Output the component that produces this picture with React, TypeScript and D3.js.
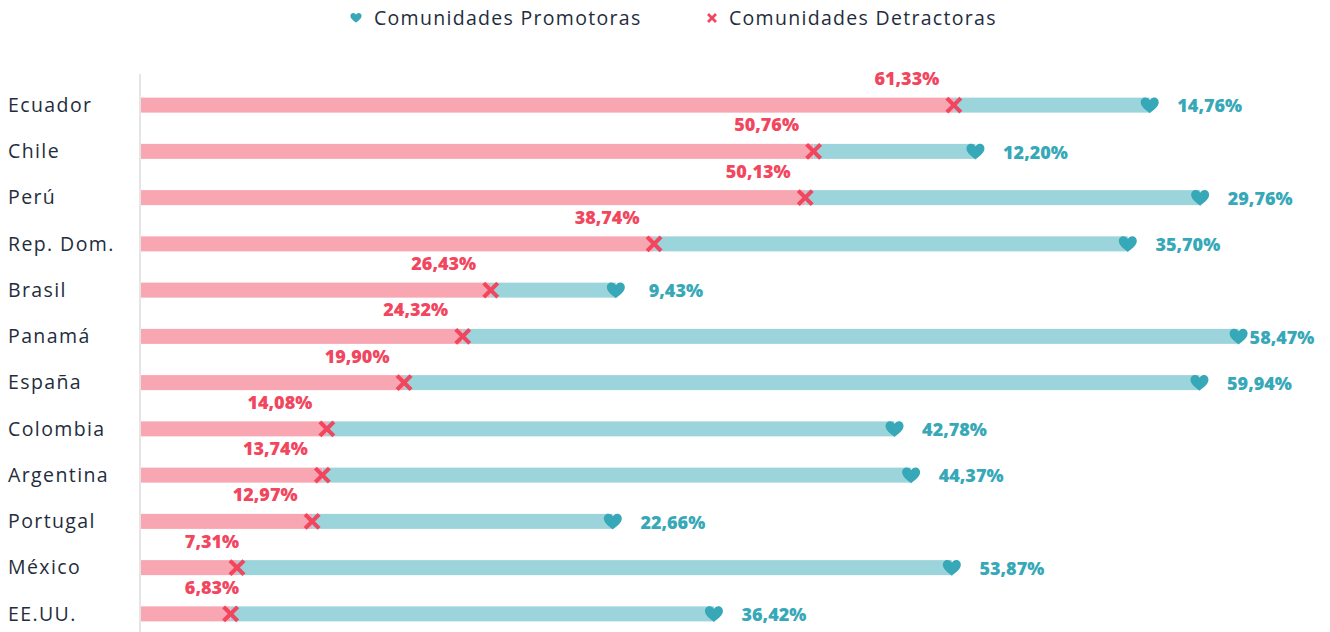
import React from 'react';
import * as d3 from 'd3';

// country rows, top to bottom
const countries = ['Ecuador', 'Chile', 'Perú', 'Rep. Dom.', 'Brasil', 'Panamá', 'España', 'Colombia', 'Argentina', 'Portugal', 'México', 'EE.UU.'];
// % comunidades detractoras
const detractors = [61.33, 50.76, 50.13, 38.74, 26.43, 24.32, 19.9, 14.08, 13.74, 12.97, 7.31, 6.83];
// % comunidades promotoras
const promoters = [14.76, 12.2, 29.76, 35.7, 9.43, 58.47, 59.94, 42.78, 44.37, 22.66, 53.87, 36.42];
const legendLabels = ['Comunidades Promotoras', 'Comunidades Detractoras'];

const W = 1330;
const H = 632;
const PINK_BAR = '#f8a6b1';
const TEAL_BAR = '#9cd4dc';
const RED = '#f2465e';
const TEAL = '#37a8b8';
const DARK = '#1f2d3d';
const FONT = "'Open Sans', sans-serif";

const fmt = (v: number) => v.toFixed(2).replace('.', ',') + '%';

// heart centred on (0,0), ~18 x 16
const heartPath =
  'M0,7.5 C-2.5,5.5 -9,1 -9,-3.2 C-9,-6.4 -6.8,-8.2 -4.5,-8.2 C-2.4,-8.2 -0.8,-7 0,-5.3 C0.8,-7 2.4,-8.2 4.5,-8.2 C6.8,-8.2 9,-6.4 9,-3.2 C9,1 2.5,5.5 0,7.5 Z';

const Cross = ({ x, y, s, w }: { x: number; y: number; s: number; w: number }) => (
  <g transform={`translate(${x},${y})`} stroke={RED} strokeWidth={w} strokeLinecap="butt">
    <line x1={-s} y1={-s} x2={s} y2={s} />
    <line x1={-s} y1={s} x2={s} y2={-s} />
  </g>
);

const App = () => {
  const x = d3.scaleLinear().domain([0, 100]).range([140, 1467]);
  const y = d3.scaleBand().domain(countries).range([82, 637]).padding(0);
  const barH = 15;

  return (
    <svg width={W} height={H} style={{ position: 'absolute', left: 0, top: 0, fontFamily: FONT }}>
      <rect width={W} height={H} fill="#fff" />

      {/* legend */}
      <g>
        <path d={heartPath} fill={TEAL} transform="translate(356,18) scale(0.62)" />
        <text x={374} y={18} dy="0.35em" fontSize={19.5} letterSpacing={1.3} fill={DARK}>{legendLabels[0]}</text>
        <Cross x={712} y={18} s={4} w={2.6} />
        <text x={729} y={18} dy="0.35em" fontSize={19.5} letterSpacing={1.3} fill={DARK}>{legendLabels[1]}</text>
      </g>

      {/* axis line */}
      <line x1={140} x2={140} y1={74} y2={H} stroke="#dcdcdc" strokeWidth={1.5} />

      {countries.map((c, i) => {
        const cy = (y(c) as number) + y.bandwidth() / 2;
        const dx = x(detractors[i]);
        const sx = x(detractors[i] + promoters[i]);
        return (
          <g key={c}>
            <text x={8} y={cy} dy="0.35em" fontSize={19.5} letterSpacing={1.4} fill={DARK}>{c}</text>
            <rect x={x(0) + 1} y={cy - barH / 2} width={dx - x(0) - 1} height={barH} fill={PINK_BAR} />
            <rect x={dx} y={cy - barH / 2} width={sx - dx} height={barH} fill={TEAL_BAR} />
            <Cross x={dx} y={cy} s={7} w={4.2} />
            <path d={heartPath} fill={TEAL} transform={`translate(${sx},${cy + 0.5})`} />
            <text x={Math.max(dx - 47, 212)} y={cy - 20} textAnchor="middle" fontSize={18} fontWeight={800} fill={RED}>
              {fmt(detractors[i])}
            </text>
            <text x={Math.min(sx + 60, 1282)} y={cy + 1} dy="0.35em" textAnchor="middle" fontSize={18} fontWeight={800} fill={TEAL}>
              {fmt(promoters[i])}
            </text>
          </g>
        );
      })}
    </svg>
  );
};

export default App;
